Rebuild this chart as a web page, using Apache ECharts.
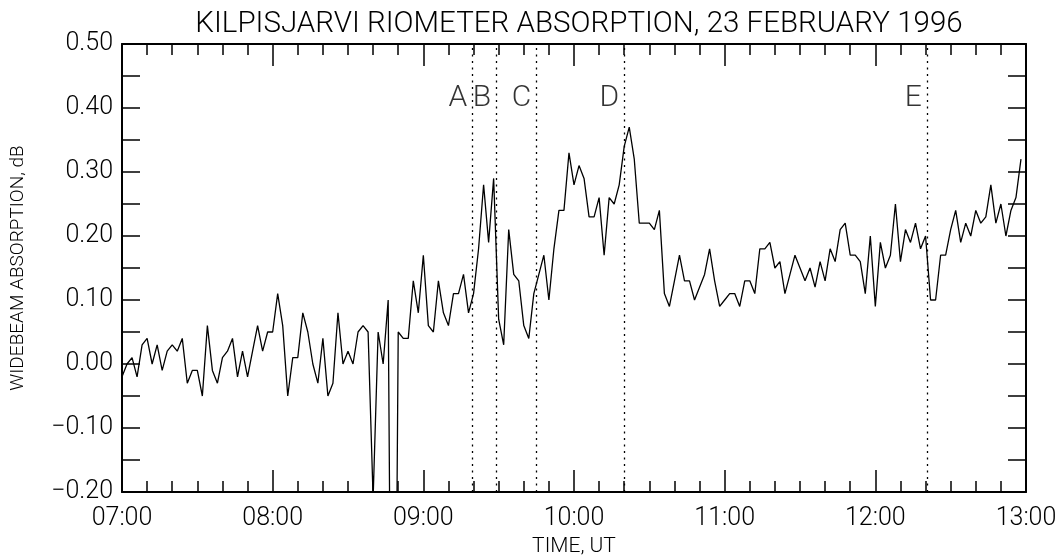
<!DOCTYPE html>
<html>
<head>
<meta charset="utf-8">
<script src="https://cdn.jsdelivr.net/npm/echarts@6/dist/echarts.min.js"></script>
<style>
html,body{margin:0;padding:0;background:#fff;}
#chart{width:1063px;height:556px;}
</style>
</head>
<body>
<div id="chart"></div>
<script>
// Sampling grid: minutes after 07:00 UT, one sample every 2 minutes
const START_MIN = 0;
const STEP_MIN = 2;

// Widebeam absorption (dB), 07:00 .. 12:58 UT
const absorption = [
  -0.02, 0.00, 0.01, -0.02, 0.03, 0.04, 0.00, 0.03, -0.01, 0.02,   // 07:00-07:18
  0.03, 0.02, 0.04, -0.03, -0.01, -0.01, -0.05, 0.06, -0.01, -0.03, // 07:20-07:38
  0.01, 0.02, 0.04, -0.02, 0.02, -0.02, 0.02, 0.06, 0.02, 0.05,     // 07:40-07:58
  0.05, 0.11, 0.06, -0.05, 0.01, 0.01, 0.08, 0.05, 0.00, -0.03,     // 08:00-08:18
  0.04, -0.05, -0.03, 0.08, 0.00, 0.02, 0.00, 0.05, 0.06, 0.05,     // 08:20-08:38
  -0.21, 0.05, 0.00, 0.10, -1.00, 0.05, 0.04, 0.04, 0.13, 0.08,     // 08:40-08:58
  0.17, 0.06, 0.05, 0.13, 0.08, 0.06, 0.11, 0.11, 0.14, 0.08,       // 09:00-09:18
  0.11, 0.18, 0.28, 0.19, 0.29, 0.07, 0.03, 0.21, 0.14, 0.13,       // 09:20-09:38
  0.06, 0.04, 0.11, 0.14, 0.17, 0.10, 0.18, 0.24, 0.24, 0.33,       // 09:40-09:58
  0.28, 0.31, 0.29, 0.23, 0.23, 0.26, 0.17, 0.26, 0.25, 0.28,       // 10:00-10:18
  0.34, 0.37, 0.32, 0.22, 0.22, 0.22, 0.21, 0.24, 0.11, 0.09,       // 10:20-10:38
  0.13, 0.17, 0.13, 0.13, 0.10, 0.12, 0.14, 0.18, 0.13, 0.09,       // 10:40-10:58
  0.10, 0.11, 0.11, 0.09, 0.13, 0.13, 0.11, 0.18, 0.18, 0.19,       // 11:00-11:18
  0.15, 0.16, 0.11, 0.14, 0.17, 0.15, 0.13, 0.15, 0.12, 0.16,       // 11:20-11:38
  0.13, 0.18, 0.16, 0.21, 0.22, 0.17, 0.17, 0.16, 0.11, 0.20,       // 11:40-11:58
  0.09, 0.19, 0.15, 0.17, 0.25, 0.16, 0.21, 0.19, 0.22, 0.18,       // 12:00-12:18
  0.20, 0.10, 0.10, 0.17, 0.17, 0.21, 0.24, 0.19, 0.22, 0.20,       // 12:20-12:38
  0.24, 0.22, 0.23, 0.28, 0.22, 0.25, 0.20, 0.24, 0.26, 0.32        // 12:40-12:58
];

// Event markers (minutes after 07:00 UT)
const eventNames = ['A', 'B', 'C', 'D', 'E'];
const eventTimes = [139.5, 149, 165, 200, 320.5];
const eventLabelLevel = 0.415;

// Tick labels
const xTickLabels = ['07:00', '08:00', '09:00', '10:00', '11:00', '12:00', '13:00'];
const yTickLabels = ['\u22120.20', '\u22120.10', '0.00', '0.10', '0.20', '0.30', '0.40', '0.50'];

const titleText = 'KILPISJARVI RIOMETER ABSORPTION, 23 FEBRUARY 1996';
const xName = 'TIME, UT';
const yName = 'WIDEBEAM ABSORPTION, dB';

const FONT = "Roboto, 'Liberation Sans', Arial, sans-serif";
const WEIGHT = 300;
const X_MIN = 0, X_MAX = 360, Y_MIN = -0.2, Y_MAX = 0.5;

const lineData = absorption.map((v, i) => [START_MIN + i * STEP_MIN, v]);
const eventData = eventTimes.map((t, i) => [t, eventLabelLevel, eventNames[i]]);

function xAxisCfg(pos, showLabels) {
  return {
    type: 'value', position: pos, min: X_MIN, max: X_MAX, interval: 60,
    axisLine: { show: true, onZero: false, lineStyle: { color: '#000', width: 2 } },
    axisTick: { show: true, inside: true, length: 22, lineStyle: { color: '#000', width: 1.5 } },
    minorTick: { show: true, splitNumber: 6, length: 11, lineStyle: { color: '#000', width: 1.5 } },
    splitLine: { show: false },
    axisLabel: {
      show: showLabels, margin: 14, color: '#000', fontFamily: FONT, fontWeight: WEIGHT, fontSize: 25,
      formatter: v => xTickLabels[Math.round(v / 60)]
    },
    name: showLabels ? xName : '',
    nameLocation: 'middle', nameGap: 44,
    nameTextStyle: { color: '#000', fontFamily: FONT, fontWeight: WEIGHT, fontSize: 21 }
  };
}
function yAxisCfg(pos, showLabels) {
  return {
    type: 'value', position: pos, min: Y_MIN, max: Y_MAX, interval: 0.1,
    axisLine: { show: true, onZero: false, lineStyle: { color: '#000', width: 2 } },
    axisTick: { show: true, inside: true, length: 18, lineStyle: { color: '#000', width: 1.5 } },
    minorTick: { show: true, splitNumber: 2, length: 18, lineStyle: { color: '#000', width: 1.5 } },
    splitLine: { show: false },
    axisLabel: {
      show: showLabels, margin: 9, color: '#000', fontFamily: FONT, fontWeight: WEIGHT, fontSize: 25,
      formatter: v => yTickLabels[Math.round((v - Y_MIN) / 0.1)]
    },
    name: showLabels ? yName : '',
    nameLocation: 'middle', nameGap: 94, nameRotate: 90,
    nameTextStyle: { color: '#000', fontFamily: FONT, fontWeight: WEIGHT, fontSize: 19 }
  };
}

const chart = echarts.init(document.getElementById('chart'), null, { renderer: 'canvas' });
chart.setOption({
  backgroundColor: '#fff',
  animation: false,
  title: {
    text: titleText, left: 574, top: 5, textAlign: 'center',
    textStyle: { color: '#000', fontFamily: FONT, fontSize: 29.5, fontWeight: WEIGHT }
  },
  grid: { left: 122, right: 37, top: 44, bottom: 64, containLabel: false, outerBoundsMode: 'none' },
  xAxis: [xAxisCfg('bottom', true), xAxisCfg('top', false)],
  yAxis: [yAxisCfg('left', true), yAxisCfg('right', false)],
  series: [
    {
      type: 'line', data: lineData, xAxisIndex: 0, yAxisIndex: 0,
      showSymbol: false, symbol: 'none', clip: true,
      lineStyle: { color: '#000', width: 1.3 }
    },
    {
      type: 'scatter', data: eventData, xAxisIndex: 0, yAxisIndex: 0,
      symbolSize: 0, silent: true,
      label: {
        show: true, position: 'left', distance: 5,
        formatter: p => p.data[2],
        color: '#000', fontFamily: FONT, fontWeight: WEIGHT, fontSize: 30
      },
      markLine: {
        silent: true, symbol: ['none', 'none'],
        label: { show: false },
        lineStyle: { color: '#000', width: 1.3, type: [2, 4.5] },
        data: eventTimes.map(t => ({ xAxis: t }))
      }
    }
  ]
});
</script>
</body>
</html>
